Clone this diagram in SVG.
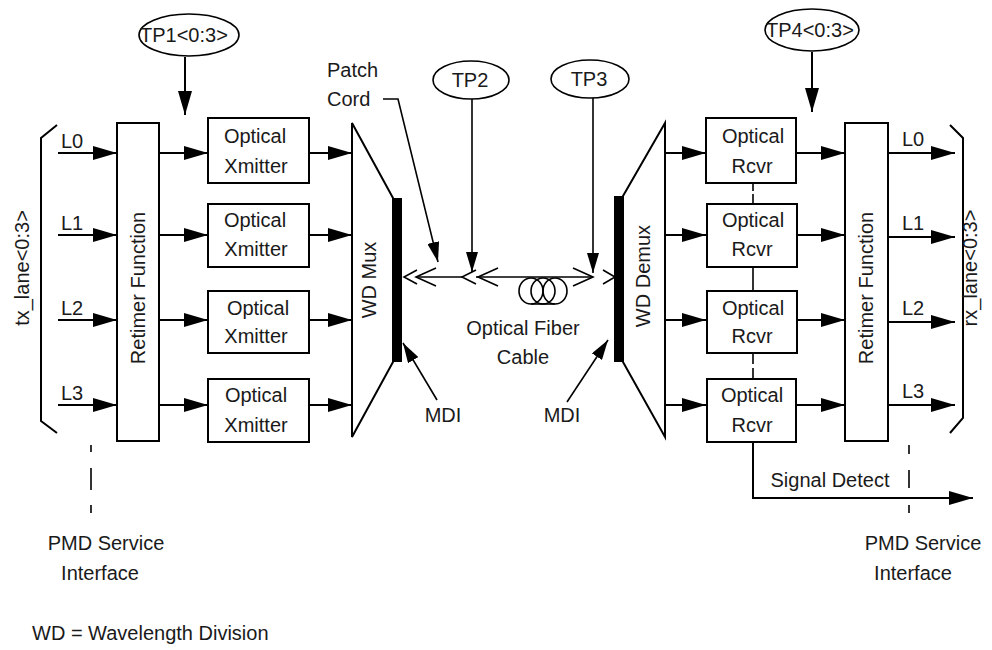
<svg xmlns="http://www.w3.org/2000/svg" width="992" height="650" viewBox="0 0 992 650">
<style>
text{font-family:"Liberation Sans",Arial,sans-serif;font-size:20px;fill:#1a1a1a}
.m{text-anchor:middle}
.box{fill:#fff;stroke:#000;stroke-width:2}
.ln{fill:none;stroke:#000;stroke-width:2}
.thin{fill:none;stroke:#000;stroke-width:1.6}
.arr{fill:none;stroke:#000;stroke-width:2;marker-end:url(#ah)}
.tp{fill:#fff;stroke:#000;stroke-width:1.6}
</style>
<defs>
<marker id="ah" markerUnits="userSpaceOnUse" markerWidth="24" markerHeight="14" refX="24" refY="7" orient="auto"><path d="M0,0 L24,7 L0,14 z" fill="#000"/></marker>
<marker id="ahs" markerUnits="userSpaceOnUse" markerWidth="20" markerHeight="12" refX="20" refY="6" orient="auto"><path d="M0,0 L20,6 L0,12 z" fill="#000"/></marker>
</defs>
<rect width="992" height="650" fill="#fff"/>

<g id="connectors">
<line class="arr" x1="185" y1="57" x2="185" y2="115"/>
<line class="arr" x1="812" y1="52" x2="812" y2="112"/>
<line class="thin" x1="472" y1="99" x2="472" y2="272" marker-end="url(#ahs)"/>
<line class="thin" x1="593" y1="98" x2="593" y2="273" marker-end="url(#ahs)"/>
<polyline class="thin" points="383,99 398,99 438,262" marker-end="url(#ahs)"/>
<line class="arr" x1="58" y1="153" x2="117" y2="153"/>
<line class="arr" x1="58" y1="235" x2="117" y2="235"/>
<line class="arr" x1="58" y1="320" x2="117" y2="320"/>
<line class="arr" x1="58" y1="405" x2="117" y2="405"/>
<line class="arr" x1="159" y1="153" x2="208" y2="153"/>
<line class="arr" x1="159" y1="235" x2="208" y2="235"/>
<line class="arr" x1="159" y1="320" x2="208" y2="320"/>
<line class="arr" x1="159" y1="405" x2="208" y2="405"/>
<line class="arr" x1="309" y1="153" x2="352" y2="153"/>
<line class="arr" x1="309" y1="235" x2="352" y2="235"/>
<line class="arr" x1="309" y1="320" x2="352" y2="320"/>
<line class="arr" x1="309" y1="405" x2="352" y2="405"/>
<line class="arr" x1="665" y1="153" x2="706" y2="153"/>
<line class="arr" x1="665" y1="235" x2="706" y2="235"/>
<line class="arr" x1="665" y1="320" x2="706" y2="320"/>
<line class="arr" x1="665" y1="405" x2="706" y2="405"/>
<line class="arr" x1="796" y1="153" x2="845" y2="153"/>
<line class="arr" x1="796" y1="235" x2="845" y2="235"/>
<line class="arr" x1="796" y1="320" x2="845" y2="320"/>
<line class="arr" x1="796" y1="405" x2="845" y2="405"/>
<line class="arr" x1="888" y1="153" x2="955" y2="153"/>
<line class="arr" x1="888" y1="237" x2="955" y2="237"/>
<line class="arr" x1="888" y1="322" x2="955" y2="322"/>
<line class="arr" x1="888" y1="405" x2="955" y2="405"/>
<line class="thin" x1="753" y1="183" x2="753" y2="191"/>
<line class="thin" x1="753" y1="194" x2="753" y2="204"/>
<line class="thin" x1="753" y1="267" x2="753" y2="291"/>
<line class="thin" x1="753" y1="353" x2="753" y2="364"/>
<line class="thin" x1="753" y1="368" x2="753" y2="379"/>
<polyline class="arr" points="753,442 753,498 973,498"/>
<line class="thin" x1="437" y1="400" x2="403" y2="343" marker-end="url(#ahs)"/>
<line class="thin" x1="567" y1="402" x2="608" y2="340" marker-end="url(#ahs)"/>
<g class="thin">
<line x1="91" y1="445" x2="91" y2="452"/><line x1="91" y1="468" x2="91" y2="490"/><line x1="91" y1="505" x2="91" y2="513"/>
<line x1="909" y1="445" x2="909" y2="454"/><line x1="909" y1="470" x2="909" y2="488"/><line x1="909" y1="505" x2="909" y2="513"/>
</g>
</g>

<g id="fiber">
<line class="thin" x1="416" y1="277" x2="462" y2="277"/>
<line class="thin" x1="476" y1="277" x2="593" y2="277"/>
<polyline class="thin" points="417,270 404,277 417,284"/>
<polyline class="thin" points="436,268 416,277 436,286"/>
<polyline class="thin" points="476,270 462,277 476,284"/>
<polyline class="thin" points="498,268 478,277 498,286"/>
<polyline class="thin" points="573,268 593,277 573,286"/>
<polyline class="thin" points="603,270 615,277 603,284"/>
<ellipse class="thin" cx="531" cy="291" rx="12" ry="13"/>
<ellipse class="thin" cx="543" cy="291" rx="12" ry="13"/>
<ellipse class="thin" cx="555" cy="291" rx="12" ry="13"/>
<line class="thin" x1="531" y1="304" x2="555" y2="304"/>
</g>

<g id="tx-bracket">
<polyline class="ln" points="57,125 41,138 41,421 57,433"/>
<text class="m" transform="rotate(-90 22 268)" x="22" y="275">tx_lane&lt;0:3&gt;</text>
<text x="61" y="148">L0</text>
<text x="61" y="230">L1</text>
<text x="61" y="315">L2</text>
<text x="61" y="400">L3</text>
</g>
<g id="rx-bracket">
<polyline class="ln" points="950,125 963,138 963,418 950,433"/>
<text class="m" transform="rotate(-90 970 268)" x="970" y="275">rx_lane&lt;0:3&gt;</text>
<text x="902" y="146">L0</text>
<text x="902" y="230">L1</text>
<text x="902" y="315">L2</text>
<text x="902" y="398">L3</text>
</g>

<g id="tp1"><ellipse class="tp" cx="189" cy="35" rx="50" ry="21"/><text x="140" y="42">TP1&lt;0:3&gt;</text></g>
<g id="tp2"><ellipse class="tp" cx="471" cy="80" rx="38" ry="19"/><text class="m" x="470" y="87">TP2</text></g>
<g id="tp3"><ellipse class="tp" cx="590" cy="79" rx="39" ry="19"/><text class="m" x="589" y="86">TP3</text></g>
<g id="tp4"><ellipse class="tp" cx="812" cy="30" rx="47" ry="21"/><text x="766" y="37">TP4&lt;0:3&gt;</text></g>

<g id="retimer-tx"><rect class="box" x="117" y="123" width="42" height="318"/><text class="m" transform="rotate(-90 138 288)" x="138" y="295">Retimer Function</text></g>
<g id="xmit0"><rect class="box" x="208" y="118" width="101" height="65"/><text class="m" x="255" y="143">Optical</text><text class="m" x="256" y="173">Xmitter</text></g>
<g id="xmit1"><rect class="box" x="208" y="204" width="101" height="63"/><text class="m" x="255" y="227">Optical</text><text class="m" x="256" y="256">Xmitter</text></g>
<g id="xmit2"><rect class="box" x="208" y="291" width="101" height="62"/><text class="m" x="258" y="315">Optical</text><text class="m" x="256" y="343">Xmitter</text></g>
<g id="xmit3"><rect class="box" x="208" y="379" width="101" height="63"/><text class="m" x="256" y="402">Optical</text><text class="m" x="256" y="432">Xmitter</text></g>

<g id="mux"><path class="box" d="M352,123 L393,198 L393,362 L352,437 Z"/><rect x="393" y="198" width="9" height="164" fill="#000"/><text class="m" transform="rotate(-90 369 280)" x="369" y="287">WD Mux</text></g>
<g id="demux"><path class="box" d="M665,123 L623,196 L623,362 L665,437 Z"/><rect x="614" y="196" width="9" height="166" fill="#000"/><text class="m" transform="rotate(-90 643 276)" x="643" y="283">WD Demux</text></g>

<g id="rcvr0"><rect class="box" x="706" y="118" width="90" height="65"/><text class="m" x="753" y="143">Optical</text><text class="m" x="752" y="173">Rcvr</text></g>
<g id="rcvr1"><rect class="box" x="707" y="204" width="90" height="63"/><text class="m" x="753" y="227">Optical</text><text class="m" x="752" y="256">Rcvr</text></g>
<g id="rcvr2"><rect class="box" x="707" y="291" width="90" height="62"/><text class="m" x="753" y="315">Optical</text><text class="m" x="752" y="343">Rcvr</text></g>
<g id="rcvr3"><rect class="box" x="707" y="379" width="89" height="63"/><text class="m" x="752" y="402">Optical</text><text class="m" x="752" y="432">Rcvr</text></g>
<g id="retimer-rx"><rect class="box" x="845" y="123" width="43" height="318"/><text class="m" transform="rotate(-90 866 288)" x="866" y="295">Retimer Function</text></g>

<g id="labels">
<text x="327" y="77">Patch</text>
<text x="327" y="106">Cord</text>
<text class="m" x="523" y="335">Optical Fiber</text>
<text class="m" x="523" y="364">Cable</text>
<text class="m" x="443" y="422">MDI</text>
<text class="m" x="562" y="422">MDI</text>
<text class="m" x="830" y="487">Signal Detect</text>
<text class="m" x="106" y="550">PMD Service</text>
<text class="m" x="100" y="580">Interface</text>
<text class="m" x="923" y="550">PMD Service</text>
<text class="m" x="913" y="580">Interface</text>
<text x="32" y="640">WD = Wavelength Division</text>
</g>
</svg>
